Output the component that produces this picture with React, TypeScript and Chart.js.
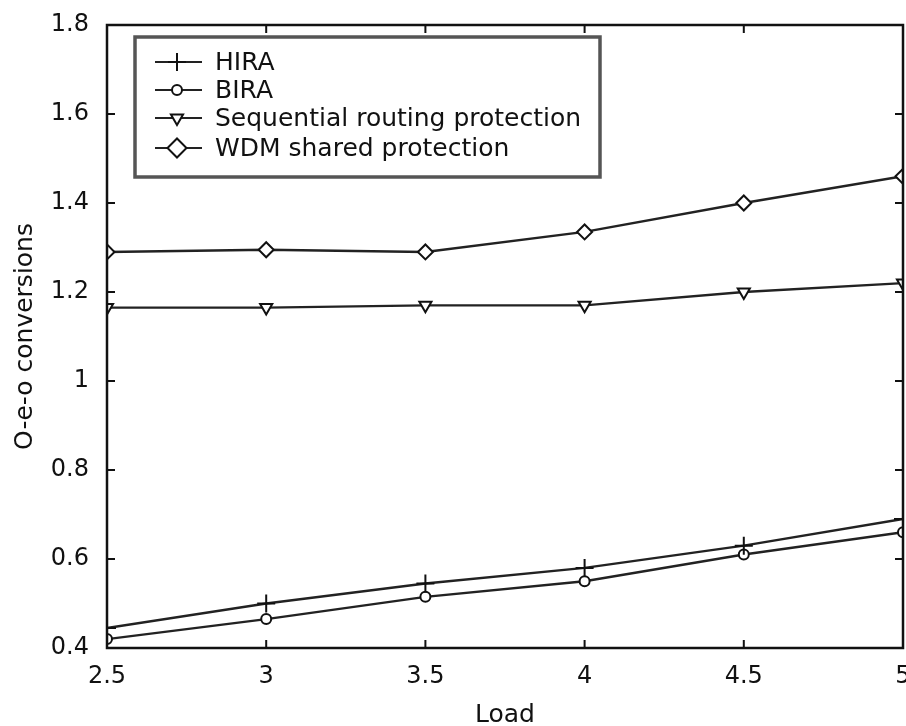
import React, { useEffect, useRef } from "react";
import { Chart, registerables } from "chart.js";
import { drawPoint } from "chart.js/helpers";

Chart.register(...registerables);

const loads = [2.5, 3, 3.5, 4, 4.5, 5];
const hira = [0.445, 0.5, 0.545, 0.58, 0.63, 0.69];
const bira = [0.42, 0.465, 0.515, 0.55, 0.61, 0.66];
const seqRouting = [1.165, 1.165, 1.17, 1.17, 1.2, 1.22];
const wdmShared = [1.29, 1.295, 1.29, 1.335, 1.4, 1.46];
const seriesNames = ["HIRA", "BIRA", "Sequential routing protection", "WDM shared protection"];
const xTitle = "Load";
const yTitle = "O-e-o conversions";

const FONT = "'DejaVu Sans', sans-serif";
const TICKFONT = "'DejaVu Sans', sans-serif";

const fmt = (v: any) => String(+Number(v).toFixed(2));

const framePlugin = {
  id: "frame",
  afterDraw(chart: any) {
    const { ctx, chartArea, scales } = chart;
    const { left, right, top, bottom } = chartArea;
    ctx.save();
    ctx.strokeStyle = "#111";
    ctx.lineWidth = 2.5;
    ctx.strokeRect(left, top, right - left, bottom - top);
    ctx.lineWidth = 2;
    const tl = 8;
    scales.x.ticks.forEach((t: any) => {
      const px = scales.x.getPixelForValue(t.value);
      ctx.beginPath();
      ctx.moveTo(px, bottom);
      ctx.lineTo(px, bottom - tl);
      ctx.moveTo(px, top);
      ctx.lineTo(px, top + tl);
      ctx.stroke();
    });
    scales.y.ticks.forEach((t: any) => {
      const py = scales.y.getPixelForValue(t.value);
      ctx.beginPath();
      ctx.moveTo(left, py);
      ctx.lineTo(left + tl, py);
      ctx.moveTo(right, py);
      ctx.lineTo(right - tl, py);
      ctx.stroke();
    });

    // legend box
    const bx = left + 28;
    const by = top + 12;
    const bw = 465;
    const bh = 140;
    ctx.fillStyle = "#fff";
    ctx.fillRect(bx, by, bw, bh);
    ctx.strokeStyle = "#555";
    ctx.lineWidth = 3.5;
    ctx.strokeRect(bx, by, bw, bh);
    const rows = [by + 25, by + 53, by + 81, by + 111];
    chart.data.datasets.forEach((ds: any, i: number) => {
      const ry = rows[i];
      ctx.strokeStyle = "#222";
      ctx.lineWidth = 2.2;
      ctx.beginPath();
      ctx.moveTo(bx + 20, ry);
      ctx.lineTo(bx + 67, ry);
      ctx.stroke();
      ctx.fillStyle = "#fff";
      ctx.strokeStyle = "#111";
      ctx.lineWidth = 2;
      drawPoint(
        ctx,
        {
          pointStyle: ds.pointStyle,
          rotation: ds.pointRotation || 0,
          radius: ds.pointRadius + (ds.pointStyle === "rectRot" ? 2 : 0),
          borderWidth: ds.pointBorderWidth,
        } as any,
        bx + 42,
        ry
      );
      ctx.fillStyle = "#111";
      ctx.font = `25px ${FONT}`;
      ctx.textBaseline = "middle";
      ctx.textAlign = "left";
      ctx.fillText(ds.label, bx + 80, ry + 1);
    });
    ctx.restore();
  },
};

export default function App() {
  const ref = useRef<HTMLCanvasElement | null>(null);
  useEffect(() => {
    document.body.style.margin = "0";
    const mk = (label: string, data: number[], style: string, radius: number, rot = 0) => ({
      label,
      data: loads.map((x, i) => ({ x, y: data[i] })),
      borderColor: "#222",
      backgroundColor: "#fff",
      borderWidth: 2.4,
      pointStyle: style,
      pointRadius: radius,
      pointRotation: rot,
      pointBorderWidth: 2,
      pointBackgroundColor: "#fff",
      pointBorderColor: "#111",
      tension: 0,
    });
    const chart = new Chart(ref.current as HTMLCanvasElement, {
      type: "line",
      data: {
        datasets: [
          mk(seriesNames[0], hira, "cross", 9),
          mk(seriesNames[1], bira, "circle", 5),
          mk(seriesNames[2], seqRouting, "triangle", 7, 180),
          mk(seriesNames[3], wdmShared, "rectRot", 7.5),
        ],
      },
      plugins: [framePlugin],
      options: {
        animation: false,
        responsive: false,
        devicePixelRatio: 1,
        layout: { padding: { left: 6, right: 0, top: 25, bottom: 0 } },
        plugins: { legend: { display: false }, tooltip: { enabled: false } },
        scales: {
          x: {
            type: "linear",
            min: 2.5,
            max: 5,
            grid: { display: false },
            border: { display: false },
            ticks: {
              stepSize: 0.5,
              padding: 6,
              color: "#111",
              font: { family: TICKFONT, size: 24 },
              callback: (v: any) => fmt(v),
            },
            title: {
              display: true,
              text: xTitle,
              color: "#111",
              padding: { top: 0, bottom: -4 },
              font: { family: FONT, size: 25 },
            },
            afterFit: (s: any) => {
              s.height = 78;
              s.paddingLeft = 0;
              s.paddingRight = 0;
            },
          },
          y: {
            min: 0.4,
            max: 1.8,
            grid: { display: false },
            border: { display: false },
            ticks: {
              stepSize: 0.2,
              padding: 10,
              color: "#111",
              font: { family: TICKFONT, size: 24 },
              callback: (v: any) => fmt(v),
            },
            title: { display: true, text: yTitle, color: "#111", font: { family: FONT, size: 25 } },
            afterFit: (s: any) => {
              s.width = 101;
              s.paddingTop = 0;
              s.paddingBottom = 0;
            },
          },
        },
      } as any,
    });
    return () => chart.destroy();
  }, []);
  return (
    <div style={{ width: 906, height: 726, background: "#fff", overflow: "hidden" }}>
      <canvas ref={ref} width={914} height={726} style={{ display: "block" }} />
    </div>
  );
}
